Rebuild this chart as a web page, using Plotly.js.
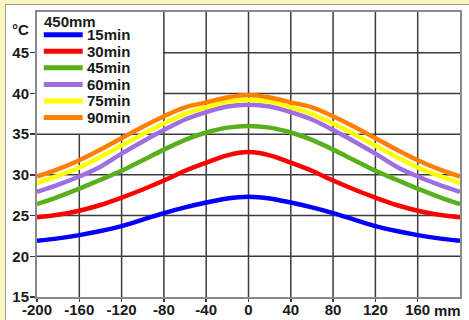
<!DOCTYPE html>
<html>
<head>
<meta charset="utf-8">
<script src="https://cdn.plot.ly/plotly-3.0.1.min.js"></script>
<style>
html,body{margin:0;padding:0;width:469px;height:320px;overflow:hidden;background:#FDF6C3;}
#wrap{position:absolute;left:5px;top:4px;width:464px;height:316px;border-left:1px solid #9a9a9a;border-top:1px solid #9a9a9a;background:#fff;}
#plot{position:absolute;left:0;top:0;width:463px;height:315px;}
</style>
</head>
<body>
<div id="wrap"><div id="plot"></div></div>
<script>
// Position across the section (mm)
const positions = [-200,-180,-160,-140,-120,-100,-80,-60,-40,-20,0,20,40,60,80,100,120,140,160,180,200];
// Temperature (°C) at 450mm depth after each heating time
const temp15 = [21.9,22.2,22.6,23.1,23.7,24.5,25.3,26.0,26.6,27.1,27.3,27.1,26.6,26.0,25.3,24.5,23.7,23.1,22.6,22.2,21.9];
const temp30 = [24.8,25.1,25.6,26.3,27.2,28.2,29.3,30.5,31.5,32.4,32.8,32.4,31.5,30.5,29.3,28.2,27.2,26.3,25.6,25.1,24.8];
const temp45 = [26.4,27.3,28.3,29.4,30.5,31.8,33.1,34.3,35.2,35.8,36.0,35.8,35.2,34.3,33.1,31.8,30.5,29.4,28.3,27.3,26.4];
const temp60 = [27.9,28.8,29.8,31.0,32.6,34.1,35.5,36.8,37.7,38.4,38.6,38.4,37.7,36.8,35.5,34.1,32.6,31.0,29.8,28.8,27.9];
const temp75 = [29.0,29.9,30.9,32.2,33.6,35.0,36.3,37.5,38.3,39.0,39.2,39.0,38.3,37.5,36.3,35.0,33.6,32.2,30.9,29.9,29.0];
const temp90 = [29.8,30.7,31.8,33.1,34.5,35.9,37.2,38.3,38.9,39.5,39.8,39.5,38.9,38.3,37.2,35.9,34.5,33.1,31.8,30.7,29.8];
const seriesNames = ["15min","30min","45min","60min","75min","90min"];
const seriesColors = ["#0000FF","#FF0000","#58B01C","#9F6FE0","#FFFF00","#FF7F00"];
const legendTitle = "450mm";
const xTickVals = [-200,-160,-120,-80,-40,0,40,80,120,160];
const yTickVals = [15,20,25,30,35,40,45];
const yUnit = "°C";
const xUnit = "mm";

const series = [temp15,temp30,temp45,temp60,temp75,temp90];
const FONT = "Liberation Sans, Arial, sans-serif";
const X0 = -200, X1 = 200, Y0 = 15, Y1 = 50;
const GRID = "#3c3c3c";
// legend box extent (grid lines are hidden behind it)
const boxX = -81, boxY = 35;

const traces = series.map((ys,i)=>({
  x: positions, y: ys, type:"scatter", mode:"lines", name: seriesNames[i],
  line:{color: seriesColors[i], width:4.5, shape:"spline", smoothing:1},
  showlegend:false, hoverinfo:"x+y+name"
}));

const shapes = [];
// grid lines drawn as shapes so the legend area stays clear
xTickVals.forEach(v=>{
  if (v===X0) return;
  const top = (v < boxX) ? boxY : Y1;
  shapes.push({type:"line",xref:"x",yref:"y",x0:v,x1:v,y0:Y0,y1:top,
    line:{color:GRID,width:1.5},layer:"below"});
});
yTickVals.forEach(v=>{
  if (v===Y0) return;
  const left = (v > boxY) ? boxX : X0;
  shapes.push({type:"line",xref:"x",yref:"y",x0:left,x1:X1,y0:v,y1:v,
    line:{color:GRID,width:1.5},layer:"below"});
});

// manual compact legend
const annotations = [];
const legStep = 0.058;
annotations.push({xref:"paper",yref:"paper",x:0.012,y:0.968,xanchor:"left",yanchor:"middle",
  text:"<b>"+legendTitle+"</b>",showarrow:false,font:{family:FONT,size:15,color:"#1a1a1a"}});
seriesNames.forEach((n,i)=>{
  const yy = 0.92 - i*legStep;
  shapes.push({type:"line",xref:"paper",yref:"paper",x0:0.016,x1:0.108,y0:yy,y1:yy,
    line:{color:seriesColors[i],width:5},layer:"above"});
  annotations.push({xref:"paper",yref:"paper",x:0.114,y:yy,xanchor:"left",yanchor:"middle",
    text:"<b>"+n+"</b>",showarrow:false,font:{family:FONT,size:15,color:"#1a1a1a"}});
});
annotations.push({xref:"paper",yref:"paper",x:-0.015,y:0.937,xanchor:"right",yanchor:"middle",
  text:"<b>"+yUnit+"</b>",showarrow:false,font:{family:FONT,size:15,color:"#1a1a1a"}});
annotations.push({xref:"paper",yref:"paper",x:1.008,y:-0.046,xanchor:"right",yanchor:"middle",
  text:"<b>"+xUnit+"</b>",showarrow:false,font:{family:FONT,size:15,color:"#1a1a1a"}});

const layout = {
  width:463, height:315,
  margin:{l:31,r:9,t:7,b:23,pad:0},
  paper_bgcolor:"#ffffff", plot_bgcolor:"#ffffff",
  showlegend:false,
  font:{family:FONT,size:15,color:"#1a1a1a"},
  xaxis:{
    range:[X0,X1], tickmode:"array", tickvals:xTickVals,
    ticktext:xTickVals.map(v=>"<b>"+v+"</b>"),
    showgrid:false, zeroline:false, showline:true, linecolor:"#8a8a8a", linewidth:2, mirror:true,
    ticks:"outside", ticklen:3, tickcolor:GRID, tickwidth:1.5, ticklabelstandoff:-5,
    tickfont:{family:FONT,size:15,color:"#1a1a1a"}
  },
  yaxis:{
    range:[Y0,Y1], tickmode:"array", tickvals:yTickVals,
    ticktext:yTickVals.map(v=>"<b>"+v+"</b>"),
    showgrid:false, zeroline:false, showline:true, linecolor:"#8a8a8a", linewidth:2, mirror:true,
    ticks:"outside", ticklen:5, tickcolor:GRID, tickwidth:1.5, ticklabelstandoff:-2,
    tickfont:{family:FONT,size:15,color:"#1a1a1a"}
  },
  shapes: shapes,
  annotations: annotations
};
Plotly.newPlot("plot", traces, layout, {displayModeBar:false, staticPlot:true});
</script>
</body>
</html>
